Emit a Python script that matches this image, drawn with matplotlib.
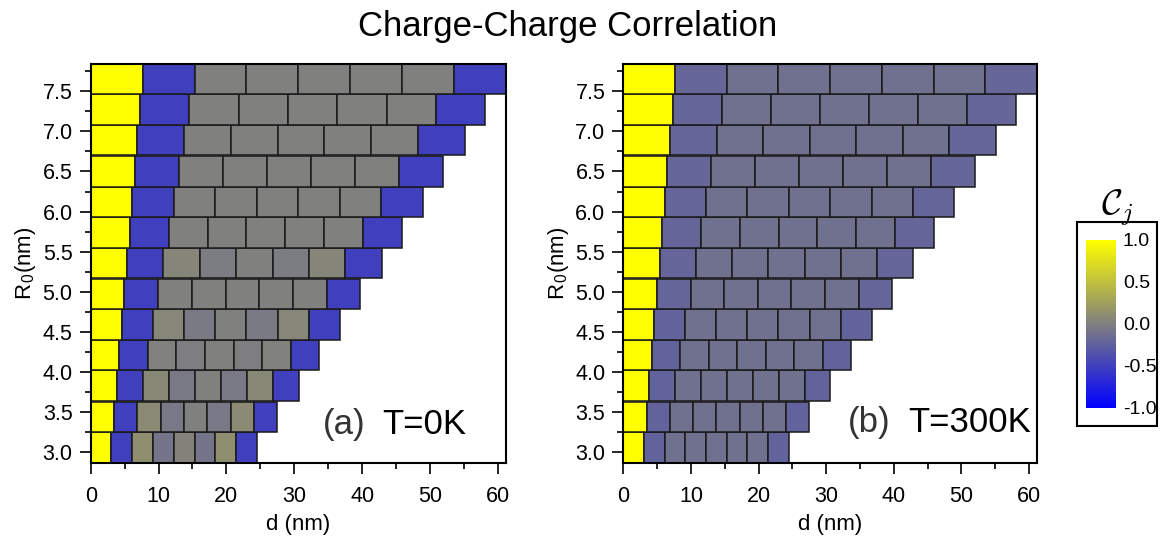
import numpy as np
import matplotlib
matplotlib.use('Agg')
import matplotlib.pyplot as plt
from matplotlib.colors import LinearSegmentedColormap, Normalize
from matplotlib.cm import ScalarMappable
from matplotlib.patches import Rectangle
from matplotlib.ticker import MultipleLocator

plt.rcParams['font.family'] = ['Liberation Sans', 'DejaVu Sans']
plt.rcParams['mathtext.fontset'] = 'cm'

# row radius R0 (nm); cell width in each row equals R0
R0 = [3.06, 3.44, 3.83, 4.21, 4.59, 4.97, 5.36, 5.74, 6.12, 6.50, 6.89, 7.27, 7.65]

# correlation C_j for the 8 sites of each row, bottom row first
corr_0K = [
    [1.0, -0.5, 0.12, -0.08, 0.03, -0.08, 0.12, -0.5],
    [1.0, -0.5, 0.08, -0.06, 0.0, -0.06, 0.08, -0.5],
    [1.0, -0.5, 0.07, -0.05, 0.0, -0.05, 0.07, -0.5],
    [1.0, -0.5, 0.01, -0.01, 0.0, -0.01, 0.01, -0.5],
    [1.0, -0.5, 0.05, -0.04, 0.0, -0.04, 0.05, -0.5],
    [1.0, -0.5, 0.0, 0.0, 0.0, 0.0, 0.0, -0.5],
    [1.0, -0.5, 0.04, -0.03, 0.0, -0.03, 0.04, -0.5],
    [1.0, -0.5, 0.0, 0.0, 0.0, 0.0, 0.0, -0.5],
    [1.0, -0.5, 0.0, 0.0, 0.0, 0.0, 0.0, -0.5],
    [1.0, -0.5, 0.0, 0.0, 0.0, 0.0, 0.0, -0.5],
    [1.0, -0.5, 0.0, 0.0, 0.0, 0.0, 0.0, -0.5],
    [1.0, -0.5, 0.0, 0.0, 0.0, 0.0, 0.0, -0.5],
    [1.0, -0.5, 0.0, 0.0, 0.0, 0.0, 0.0, -0.5],
]
corr_300K = [
    [1.0, -0.23, -0.12, -0.12, -0.12, -0.12, -0.12, -0.23],
    [1.0, -0.23, -0.12, -0.12, -0.12, -0.12, -0.12, -0.23],
    [1.0, -0.22, -0.12, -0.12, -0.12, -0.12, -0.12, -0.22],
    [1.0, -0.22, -0.12, -0.12, -0.12, -0.12, -0.12, -0.22],
    [1.0, -0.22, -0.12, -0.12, -0.12, -0.12, -0.12, -0.22],
    [1.0, -0.21, -0.12, -0.12, -0.12, -0.12, -0.12, -0.21],
    [1.0, -0.21, -0.12, -0.12, -0.12, -0.12, -0.12, -0.21],
    [1.0, -0.21, -0.12, -0.12, -0.12, -0.12, -0.12, -0.21],
    [1.0, -0.21, -0.12, -0.12, -0.12, -0.12, -0.12, -0.21],
    [1.0, -0.20, -0.12, -0.12, -0.12, -0.12, -0.12, -0.20],
    [1.0, -0.20, -0.12, -0.12, -0.12, -0.12, -0.12, -0.20],
    [1.0, -0.20, -0.12, -0.12, -0.12, -0.12, -0.12, -0.20],
    [1.0, -0.20, -0.12, -0.12, -0.12, -0.12, -0.12, -0.20],
]
cbar_ticks = [1.0, 0.5, 0.0, -0.5, -1.0]

cmap = LinearSegmentedColormap.from_list('cc', [(0.0, '#0000ff'), (0.5, '#808080'), (1.0, '#ffff00')])
norm = Normalize(-1, 1)


def plot_panel(ax, corr):
    step = R0[1] - R0[0]
    for r, vals in zip(R0, corr):
        n = len(vals)
        ax.barh(r, r, left=np.arange(n) * r, height=step, color=cmap(norm(np.array(vals))),
                edgecolor='#1a1a1a', linewidth=1.1)
    ax.set_xlim(0, len(corr[-1]) * R0[-1])
    ax.set_ylim(R0[0] - step / 2, R0[-1] + step / 2)
    ax.xaxis.set_major_locator(MultipleLocator(10))
    ax.xaxis.set_minor_locator(MultipleLocator(5))
    ax.yaxis.set_major_locator(MultipleLocator(0.5))
    ax.yaxis.set_minor_locator(MultipleLocator(0.25))
    ax.yaxis.set_major_formatter(plt.FormatStrFormatter('%.1f'))
    ax.tick_params(which='both', direction='out', labelsize=15.5, width=1.2)
    ax.tick_params(which='major', length=8)
    ax.tick_params(which='minor', length=4)
    ax.tick_params(axis='x', which='major', pad=9)
    ax.tick_params(axis='y', which='major', pad=5)
    for s in ax.spines.values():
        s.set_linewidth(1.5)
    ax.set_xlabel('d (nm)', fontsize=16, labelpad=5)
    ax.set_ylabel(r'R$_\mathregular{0}$(nm)', fontsize=16, labelpad=3)


fig = plt.figure(figsize=(11.63, 5.37), dpi=100)
ax1 = fig.add_axes([0.078, 0.1384, 0.357, 0.7424])
ax2 = fig.add_axes([0.536, 0.1384, 0.3557, 0.7424])

plot_panel(ax1, corr_0K)
plot_panel(ax2, corr_300K)

ax1.text(34.2, 3.23, '(a)', fontsize=25, color='#333333')
ax1.text(43.0, 3.23, 'T=0K', fontsize=25, color='black')
ax2.text(33.2, 3.25, '(b)', fontsize=25, color='#333333')
ax2.text(42.1, 3.25, 'T=300K', fontsize=25, color='black')

fig.text(0.488, 0.951, 'Charge-Charge Correlation', fontsize=25, ha='center', va='center')

# colorbar in a framed box
cax = fig.add_axes([1086 / 1163, 1 - 408 / 537, 30 / 1163, 168 / 537])
cb = fig.colorbar(ScalarMappable(norm=norm, cmap=cmap), cax=cax, ticks=cbar_ticks)
cb.outline.set_visible(False)
cb.ax.tick_params(length=0, labelsize=14, pad=5)
cb.ax.set_yticklabels(['%.1f' % t for t in cbar_ticks])
fig.patches.append(Rectangle((1077 / 1163, 1 - 426 / 537), 80 / 1163, 204 / 537, transform=fig.transFigure,
                             fill=False, edgecolor='black', linewidth=1.5))
fig.text(1117 / 1163, 1 - 208 / 537, r'$\mathcal{C}_j$', fontsize=26, ha='center', va='center')

plt.savefig('out.png', dpi=100)
